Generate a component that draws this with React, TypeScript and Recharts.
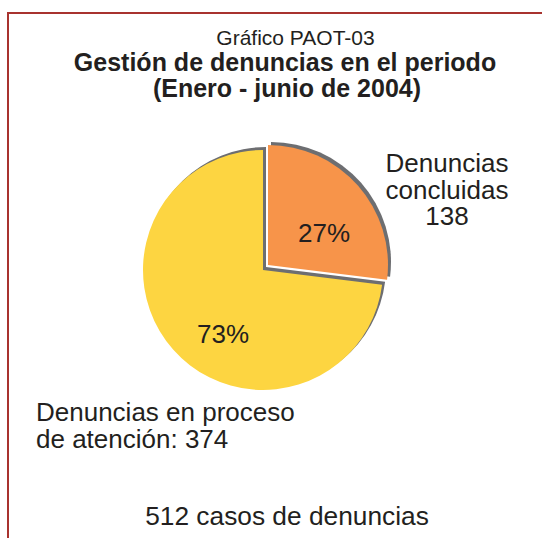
import { PieChart, Pie, Cell } from 'recharts';

const categories = ['Denuncias concluidas', 'Denuncias en proceso de atención'];
const values = [138, 374];
const sliceColors = ['#f7944a', '#fdd541'];
const shadowColor = '#6d6e71';

const titleLines = ['Gestión de denuncias en el periodo', '(Enero - junio de 2004)'];
const subtitle = 'Gráfico PAOT-03';
const concluidasLines = ['Denuncias', 'concluidas', String(values[0])];
const procesoLines = ['Denuncias en proceso', `de atención: ${values[1]}`];

const total = values.reduce((a, b) => a + b, 0);
const data = categories.map((name, i) => ({ name, value: values[i] }));
const pct = (v: number) => `${Math.round((v / total) * 100)}%`;

const W = 542;
const H = 538;
const R = 120;
const FONT = '"Liberation Sans", Arial, Helvetica, sans-serif';
const INK = '#231f20';

// pie center of the main slice, the exploded slice is pushed up and right
const CX = 263;
const CY = 270;
const EXPLODE = 5;
const SHADOW = 3;

function slicePie(key: string, visible: number, cx: number, cy: number, color?: string) {
    return (
        <Pie
            key={key}
            data={data}
            dataKey="value"
            nameKey="name"
            cx={cx}
            cy={cy}
            outerRadius={R}
            startAngle={90}
            endAngle={-270}
            stroke="none"
            isAnimationActive={false}
            legendType="none"
        >
            {data.map((_, i) => (
                <Cell key={i} fill={i === visible ? color ?? sliceColors[i] : 'transparent'} />
            ))}
        </Pie>
    );
}

export default function App() {
    return (
        <div style={{ position: 'fixed', left: 0, top: 0, width: W, height: H, background: '#fff', overflow: 'hidden' }}>
            <div
                style={{
                    position: 'absolute',
                    left: 7,
                    top: 12,
                    right: 0,
                    bottom: -4,
                    borderTop: '2px solid #a8332f',
                    borderLeft: '2px solid #a8332f',
                }}
            />
            <div style={{ position: 'absolute', left: 0, top: 0 }}>
                <PieChart width={W} height={H} margin={{ top: 0, right: 0, bottom: 0, left: 0 }}>
                    {slicePie('yshadow', 1, CX + SHADOW, CY - SHADOW, shadowColor)}
                    {slicePie('yellow', 1, CX, CY)}
                    {slicePie('oshadow', 0, CX + EXPLODE + SHADOW, CY - EXPLODE - SHADOW, shadowColor)}
                    {slicePie('orange', 0, CX + EXPLODE, CY - EXPLODE)}
                </PieChart>
            </div>
            <svg width={W} height={H} style={{ position: 'absolute', left: 0, top: 0, pointerEvents: 'none' }}>
                <g fontFamily={FONT} fill={INK}>
                    <text x={295.5} y={45} fontSize={21} textAnchor="middle">{subtitle}</text>
                    <text x={285} y={71} fontSize={25} fontWeight="bold" textAnchor="middle">{titleLines[0]}</text>
                    <text x={287} y={97} fontSize={25} fontWeight="bold" textAnchor="middle">{titleLines[1]}</text>

                    <text x={324} y={242} fontSize={26} textAnchor="middle">{pct(values[0])}</text>
                    <text x={223} y={343} fontSize={26} textAnchor="middle">{pct(values[1])}</text>

                    {concluidasLines.map((t, i) => (
                        <text key={t} x={447} y={172 + i * 26.5} fontSize={26} textAnchor="middle">{t}</text>
                    ))}
                    {procesoLines.map((t, i) => (
                        <text key={t} x={36} y={421 + i * 26.5} fontSize={26}>{t}</text>
                    ))}

                    <text x={287} y={525} fontSize={26.3} textAnchor="middle">{`${total} casos de denuncias`}</text>
                </g>
            </svg>
        </div>
    );
}
